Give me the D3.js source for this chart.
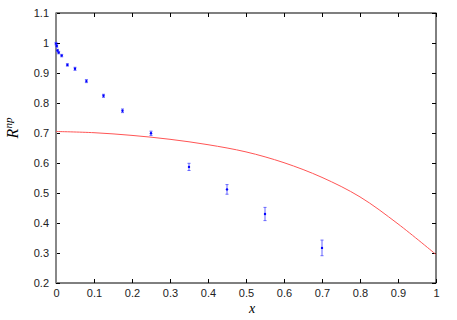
<!DOCTYPE html>
<html>
<head>
<meta charset="utf-8">
<script src="https://cdn.jsdelivr.net/npm/d3@7"></script>
<style>
  body { margin: 0; background: #fff; }
  svg { display: block; }
  .tick text { font-family: "Liberation Sans", Arial, sans-serif; font-size: 11px; fill: #222; }
</style>
</head>
<body>
<svg id="chart"></svg>
<script>
// measured points with error bars
let pointX = [0, 0.002, 0.004, 0.007, 0.015, 0.03, 0.05, 0.08, 0.125, 0.175, 0.25, 0.35, 0.45, 0.55, 0.7];
let pointY = [0.998, 0.99, 0.975, 0.968, 0.958, 0.927, 0.914, 0.873, 0.824, 0.774, 0.699, 0.587, 0.512, 0.43, 0.317];
let pointErr = [0.004, 0.004, 0.004, 0.004, 0.004, 0.004, 0.005, 0.005, 0.005, 0.006, 0.007, 0.012, 0.016, 0.022, 0.026];

// red curve
let curveX = [0, 0.1, 0.2, 0.3, 0.4, 0.5, 0.6, 0.7, 0.8, 0.9, 1.0];
let curveY = [0.705, 0.701, 0.692, 0.679, 0.661, 0.637, 0.601, 0.552, 0.487, 0.397, 0.295];

let xTicks = [0, 0.1, 0.2, 0.3, 0.4, 0.5, 0.6, 0.7, 0.8, 0.9, 1];
let yTicks = [0.2, 0.3, 0.4, 0.5, 0.6, 0.7, 0.8, 0.9, 1, 1.1];

let width = 457;
let height = 320;
let padLeft = 56, padRight = 436, padTop = 13, padBottom = 283;

let svg = d3.select("#chart").attr("width", width).attr("height", height);

let xScale = d3.scaleLinear().domain([0, 1]).range([padLeft, padRight]);
let yScale = d3.scaleLinear().domain([0.2, 1.1]).range([padBottom, padTop]);

let fmt = d => d3.format("")(+d.toFixed(1));
let tickLen = 4;

// axes: ticks pointing inward, on all four sides
svg.append("g")
  .attr("transform", "translate(0," + padBottom + ")")
  .call(d3.axisBottom(xScale).tickValues(xTicks).tickFormat(fmt).tickSize(-tickLen).tickPadding(6))
  .call(g => g.select(".domain").remove());

svg.append("g")
  .attr("transform", "translate(0," + padTop + ")")
  .call(d3.axisTop(xScale).tickValues(xTicks).tickFormat("").tickSize(-tickLen))
  .call(g => g.select(".domain").remove());

svg.append("g")
  .attr("transform", "translate(" + padLeft + ",0)")
  .call(d3.axisLeft(yScale).tickValues(yTicks).tickFormat(fmt).tickSize(-tickLen).tickPadding(7))
  .call(g => g.select(".domain").remove());

svg.append("g")
  .attr("transform", "translate(" + padRight + ",0)")
  .call(d3.axisRight(yScale).tickValues(yTicks).tickFormat("").tickSize(-tickLen))
  .call(g => g.select(".domain").remove());

svg.selectAll(".tick text").attr("fill", "#222");

// frame
svg.append("rect")
  .attr("x", padLeft).attr("y", padTop)
  .attr("width", padRight - padLeft).attr("height", padBottom - padTop)
  .attr("fill", "none").attr("stroke", "#000").attr("stroke-width", 1);

// zero axis line at x = 0
svg.append("line")
  .attr("x1", xScale(0)).attr("x2", xScale(0))
  .attr("y1", padTop).attr("y2", padBottom)
  .attr("stroke", "#888").attr("stroke-width", 2);

// red curve
let curve = curveX.map((x, i) => [x, curveY[i]]);
svg.append("path")
  .datum(curve)
  .attr("fill", "none")
  .attr("stroke", "#ff5555")
  .attr("stroke-width", 1)
  .attr("d", d3.line().x(d => xScale(d[0])).y(d => yScale(d[1])).curve(d3.curveCatmullRom));

// error bars
let pts = pointX.map((x, i) => ({ x: x, y: pointY[i], e: pointErr[i] }));
let bars = svg.append("g").attr("stroke", "#6666ff").attr("stroke-width", 1);

bars.selectAll(".err")
  .data(pts).enter().append("line")
  .attr("x1", d => xScale(d.x)).attr("x2", d => xScale(d.x))
  .attr("y1", d => yScale(d.y - d.e)).attr("y2", d => yScale(d.y + d.e));

bars.selectAll(".capTop")
  .data(pts).enter().append("line")
  .attr("x1", d => xScale(d.x) - 1.5).attr("x2", d => xScale(d.x) + 1.5)
  .attr("y1", d => yScale(d.y + d.e)).attr("y2", d => yScale(d.y + d.e));

bars.selectAll(".capBot")
  .data(pts).enter().append("line")
  .attr("x1", d => xScale(d.x) - 1.5).attr("x2", d => xScale(d.x) + 1.5)
  .attr("y1", d => yScale(d.y - d.e)).attr("y2", d => yScale(d.y - d.e));

svg.selectAll(".dot")
  .data(pts).enter().append("circle")
  .attr("class", "dot")
  .attr("cx", d => xScale(d.x)).attr("cy", d => yScale(d.y))
  .attr("r", 1.2)
  .attr("fill", "#0000ff");

// axis titles
svg.append("text")
  .attr("x", 252).attr("y", 313)
  .attr("text-anchor", "middle")
  .attr("font-family", "'Liberation Serif', 'DejaVu Serif', serif")
  .attr("font-style", "italic")
  .attr("font-size", 14)
  .text("x");

let ylab = svg.append("text")
  .attr("transform", "translate(18,128) rotate(-90)")
  .attr("text-anchor", "middle")
  .attr("font-family", "'Liberation Serif', 'DejaVu Serif', serif")
  .attr("font-style", "italic")
  .attr("font-size", 16);
ylab.append("tspan").text("R");
ylab.append("tspan").attr("font-size", 11).attr("dy", -6).text("np");
</script>
</body>
</html>
